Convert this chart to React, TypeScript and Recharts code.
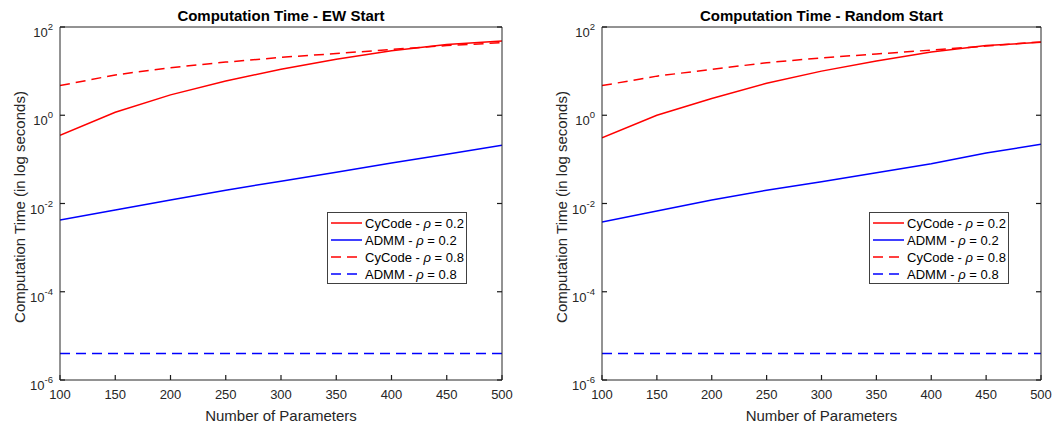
import { Label, Line, LineChart, XAxis, YAxis } from 'recharts'

const params = [100, 150, 200, 250, 300, 350, 400, 450, 500]
const xTicks = [100, 150, 200, 250, 300, 350, 400, 450, 500]
const yTicks = [1e-6, 1e-4, 1e-2, 1, 100]

// EW start
const ewCyCode02 = [0.35, 1.17, 2.9, 6, 11, 18.5, 29, 40, 48]
const ewAdmm02 = [0.0042, 0.0071, 0.012, 0.02, 0.032, 0.051, 0.083, 0.13, 0.21]
const ewCyCode08 = [4.7, 8.2, 12, 16, 20.5, 25, 31, 38, 44]
const ewAdmm08 = [4e-6, 4e-6, 4e-6, 4e-6, 4e-6, 4e-6, 4e-6, 4e-6, 4e-6]

// Random start
const rsCyCode02 = [0.31, 1.0, 2.4, 5.3, 10, 17, 27, 38, 45]
const rsAdmm02 = [0.0038, 0.0068, 0.012, 0.02, 0.031, 0.05, 0.08, 0.14, 0.22]
const rsCyCode08 = [4.7, 7.7, 11, 15.5, 20, 24.5, 30, 37, 46]
const rsAdmm08 = [4e-6, 4e-6, 4e-6, 4e-6, 4e-6, 4e-6, 4e-6, 4e-6, 4e-6]

const FONT = '"Liberation Sans", Arial, Helvetica, sans-serif'
const AXIS = '#262626'
const DASH = '10 6'
// inward tick marks, like the original figure
const tickLineStyle = { stroke: '#1a1a1a', strokeWidth: 1.2 }

const seriesDefs = [
  { key: 'c02', name: 'CyCode - ', rho: '0.2', color: '#ff0000', dash: undefined },
  { key: 'a02', name: 'ADMM - ', rho: '0.2', color: '#0000ff', dash: undefined },
  { key: 'c08', name: 'CyCode - ', rho: '0.8', color: '#ff0000', dash: DASH },
  { key: 'a08', name: 'ADMM - ', rho: '0.8', color: '#0000ff', dash: DASH },
]

const YTick = ({ x, y, payload }: any) => {
  const exp = Math.round(Math.log10(payload.value))
  return (
    <text x={x} y={y + 10} textAnchor="end" fill={AXIS} fontSize={13} fontFamily={FONT}>
      10
      <tspan dy={-7} fontSize={9.5}>
        {exp}
      </tspan>
    </text>
  )
}

const XTick = ({ x, y, payload }: any) => (
  <text x={x} y={y} dy="0.71em" textAnchor="middle" fill={AXIS} fontSize={13} fontFamily={FONT}>
    {payload.value}
  </text>
)

const NoTick = () => <g />

const LegendBox = ({ left }: { left: number }) => (
  <svg
    width={140}
    height={72}
    style={{ position: 'absolute', left, top: 212 }}
  >
    <rect x={0.5} y={0.5} width={139} height={71} fill="#fff" stroke="#404040" strokeWidth={1} />
    {seriesDefs.map((s, i) => {
      const cy = 11 + i * 17
      return (
        <g key={s.key}>
          <line x1={4} x2={35} y1={cy} y2={cy} stroke={s.color} strokeWidth={1.5} strokeDasharray={s.dash} />
          <text x={38} y={cy + 4.5} fontSize={13} fontFamily={FONT} fill="#000">
            {s.name}
            <tspan fontStyle="italic">ρ</tspan>
            {' = ' + s.rho}
          </text>
        </g>
      )
    })}
  </svg>
)

type PanelProps = {
  title: string
  width: number
  yAxisWidth: number
  right: number
  c02: number[]
  a02: number[]
  c08: number[]
  a08: number[]
}

const Panel = ({ title, width, yAxisWidth, right, c02, a02, c08, a08 }: PanelProps) => {
  const data = params.map((p, i) => ({ p, c02: c02[i], a02: a02[i], c08: c08[i], a08: a08[i] }))
  return (
    <div style={{ position: 'relative', width, height: 425 }}>
      <LineChart
        width={width}
        height={425}
        data={data}
        margin={{ top: 27, right: right, bottom: 0, left: 0 }}
      >
        <XAxis
          xAxisId="bottom"
          dataKey="p"
          type="number"
          domain={[100, 500]}
          ticks={xTicks}
          allowDataOverflow
          height={45}
          stroke={AXIS}
          tickLine={tickLineStyle}
          tickSize={-5}
          tickMargin={15}
          tick={<XTick />}
          interval={0}
        >
          <Label
            content={({ viewBox }: any) => (
              <text
                x={viewBox.x + viewBox.width / 2}
                y={421}
                textAnchor="middle"
                fontSize={15}
                fontFamily={FONT}
                fill={AXIS}
              >
                Number of Parameters
              </text>
            )}
          />
        </XAxis>
        <XAxis
          xAxisId="top"
          orientation="top"
          type="number"
          domain={[100, 500]}
          ticks={xTicks}
          allowDataOverflow
          mirror
          height={10}
          stroke={AXIS}
          tickLine={tickLineStyle}
          tickSize={5}
          tick={<NoTick />}
          interval={0}
        >
          <Label
            content={({ viewBox }: any) => (
              <text
                x={viewBox.x + viewBox.width / 2}
                y={21}
                textAnchor="middle"
                fontSize={15}
                fontWeight="bold"
                fontFamily={FONT}
                fill="#000"
              >
                {title}
              </text>
            )}
          />
        </XAxis>
        <YAxis
          yAxisId="left"
          type="number"
          scale="log"
          domain={[1e-6, 100]}
          ticks={yTicks}
          allowDataOverflow
          width={yAxisWidth}
          stroke={AXIS}
          tickLine={tickLineStyle}
          tickSize={-5}
          tickMargin={12}
          tick={<YTick />}
          interval={0}
        >
          <Label
            content={({ viewBox }: any) => {
              const cx = viewBox.x + viewBox.width - 35
              const cy = 207
              return (
                <text
                  x={cx}
                  y={cy}
                  transform={`rotate(-90 ${cx} ${cy})`}
                  textAnchor="middle"
                  fontSize={15}
                  fontFamily={FONT}
                  fill={AXIS}
                >
                  Computation Time (in log seconds)
                </text>
              )
            }}
          />
        </YAxis>
        <YAxis
          yAxisId="right"
          orientation="right"
          type="number"
          scale="log"
          domain={[1e-6, 100]}
          ticks={yTicks}
          allowDataOverflow
          mirror
          width={10}
          stroke={AXIS}
          tickLine={tickLineStyle}
          tickSize={5}
          tick={<NoTick />}
          interval={0}
        />
        {seriesDefs.map((s) => (
          <Line
            key={s.key}
            xAxisId="bottom"
            yAxisId="left"
            dataKey={s.key}
            stroke={s.color}
            strokeWidth={1.5}
            strokeDasharray={s.dash}
            dot={false}
            activeDot={false}
            isAnimationActive={false}
            type="linear"
          />
        ))}
      </LineChart>
      <LegendBox left={yAxisWidth + 267} />
    </div>
  )
}

export default function App() {
  return (
    <div
      style={{
        position: 'absolute',
        left: 0,
        top: 0,
        width: 1064,
        height: 425,
        display: 'flex',
        background: '#fff',
      }}
    >
      <Panel
        title="Computation Time - EW Start"
        width={530}
        yAxisWidth={60}
        right={28}
        c02={ewCyCode02}
        a02={ewAdmm02}
        c08={ewCyCode08}
        a08={ewAdmm08}
      />
      <Panel
        title="Computation Time - Random Start"
        width={534}
        yAxisWidth={72}
        right={23}
        c02={rsCyCode02}
        a02={rsAdmm02}
        c08={rsCyCode08}
        a08={rsAdmm08}
      />
    </div>
  )
}
